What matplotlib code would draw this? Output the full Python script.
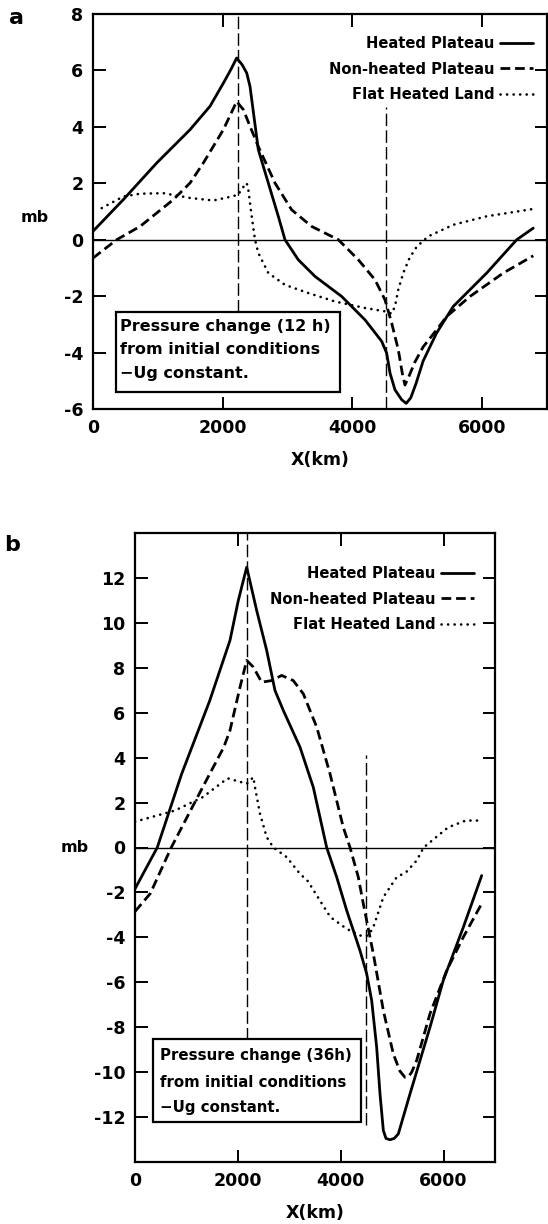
import matplotlib
matplotlib.use('Agg')
import matplotlib.pyplot as plt
from matplotlib.patches import Rectangle

plt.rcParams['font.family'] = ['DejaVu Sans']
plt.rcParams['lines.scale_dashes'] = False

# ---------------- Panel a data (12 h) ----------------
a_heated_x = [0, 467, 982, 1496, 1804, 2010, 2130, 2215, 2300, 2370, 2421, 2549, 2703, 2857, 2960,
              3165, 3423, 3834, 4194, 4451, 4528, 4580, 4656, 4759, 4830, 4900, 4980, 5090, 5299,
              5556, 6070, 6533, 6788]
a_heated_y = [0.3, 1.42, 2.72, 3.9, 4.73, 5.55, 6.05, 6.44, 6.2, 5.91, 5.43, 3.19, 2.01, 0.83, 0.0,
              -0.71, -1.3, -2.01, -2.84, -3.6, -4.02, -4.73, -5.32, -5.67, -5.8, -5.6, -5.1, -4.3, -3.3,
              -2.36, -1.18, 0.0, 0.41]

a_nonheated_x = [0, 365, 725, 1238, 1496, 1701, 2010, 2215, 2318, 2421, 2549, 2806, 3063, 3372, 3783,
                 4091, 4348, 4502, 4605, 4707, 4770, 4810, 4870, 4960, 5090, 5299, 5453, 5813, 6326, 6788]
a_nonheated_y = [-0.65, 0.0, 0.47, 1.42, 2.01, 2.72, 3.9, 4.9, 4.61, 4.02, 3.3, 2.01, 1.06, 0.47, 0.0,
                 -0.71, -1.42, -2.13, -2.95, -3.9, -4.75, -5.15, -4.85, -4.35, -3.8, -3.19, -2.72, -2.01,
                 -1.18, -0.57]

a_flat_x = [134, 467, 725, 1084, 1496, 1855, 2138, 2241, 2293, 2370, 2395, 2447, 2498, 2549, 2703,
            2960, 3320, 3731, 4194, 4502, 4605, 4656, 4707, 4784, 4880, 4990, 5170, 5556, 6070, 6788]
a_flat_y = [1.12, 1.53, 1.63, 1.65, 1.48, 1.39, 1.53, 1.6, 1.8, 2.01, 1.77, 0.83, 0.0, -0.47, -1.18,
            -1.6, -1.89, -2.19, -2.42, -2.54, -2.62, -2.36, -1.77, -1.18, -0.65, -0.25, 0.12, 0.53,
            0.83, 1.09]

# ---------------- Panel b data (36 h) ----------------
b_heated_x = [0, 433, 906, 1452, 1847, 2009, 2172, 2366, 2561, 2722, 2884, 3208, 3467, 3727, 3922,
              4116, 4375, 4505, 4602, 4699, 4764, 4829, 4880, 4958, 5040, 5120, 5347, 5736, 5994,
              6384, 6741]
b_heated_y = [-1.84, 0.0, 3.27, 6.53, 9.22, 11.0, 12.48, 10.55, 8.77, 6.99, 6.1, 4.47, 2.68, 0.0, -1.32,
              -2.8, -4.59, -5.62, -6.81, -8.89, -10.97, -12.6, -12.95, -13.01, -12.95, -12.75, -10.97,
              -8.0, -5.92, -3.55, -1.25]

b_nonheated_x = [0, 297, 705, 1249, 1725, 1847, 2042, 2172, 2301, 2463, 2657, 2852, 3078, 3273, 3533,
                 3792, 4050, 4181, 4342, 4439, 4634, 4829, 5023, 5150, 5250, 5320, 5380, 5477, 5736,
                 6060, 6384, 6741]
b_nonheated_y = [-2.85, -2.05, 0.0, 2.39, 4.46, 5.21, 7.14, 8.33, 8.03, 7.36, 7.43, 7.66, 7.43, 6.84,
                 5.36, 3.28, 0.9, 0.0, -1.32, -2.5, -4.73, -7.26, -9.19, -9.95, -10.23, -10.2, -10.0,
                 -9.48, -7.4, -5.48, -3.99, -2.5]

b_flat_x = [0, 770, 1316, 1800, 2172, 2236, 2301, 2333, 2431, 2561, 2690, 2950, 3208, 3362, 3634,
            3800, 4116, 4375, 4537, 4634, 4829, 5088, 5271, 5477, 5612, 6090, 6431, 6772]
b_flat_y = [1.15, 1.64, 2.24, 3.08, 2.84, 2.98, 3.13, 2.68, 1.5, 0.46, 0.0, -0.43, -1.17, -1.5, -2.5,
            -3.1, -3.62, -3.92, -3.92, -3.55, -2.21, -1.32, -1.1, -0.58, 0.0, 0.9, 1.2, 1.2]

series_labels = ['Heated Plateau', 'Non-heated Plateau', 'Flat Heated Land']
xticks = [0, 2000, 4000, 6000]
a_yticks = [-6, -4, -2, 0, 2, 4, 6, 8]
b_yticks = [-12, -10, -8, -6, -4, -2, 0, 2, 4, 6, 8, 10, 12]
a_box_lines = ['Pressure change (12 h)', 'from initial conditions', '\u2212Ug constant.']
b_box_lines = ['Pressure change (36h)', 'from initial conditions', '\u2212Ug constant.']

W, H = 548, 1224
fig = plt.figure(figsize=(W / 100, H / 100), dpi=100)

FS = 11.5
LFS = 10.6
WT = 'bold'


def px_axes(l, r, t, b):
    return fig.add_axes([l / W, 1 - b / H, (r - l) / W, (b - t) / H])


def style(ax, ylim, yticks):
    ax.set_xlim(0, 7000)
    ax.set_ylim(*ylim)
    ax.set_xticks(xticks)
    ax.set_yticks(yticks)
    ax.set_xticklabels([str(v) for v in xticks])
    ax.set_yticklabels([str(v) for v in yticks])
    ax.tick_params(direction='in', length=9, width=1.4, top=True, right=True,
                   labelsize=FS + 1, pad=7)
    for lab in ax.get_xticklabels() + ax.get_yticklabels():
        lab.set_fontweight(WT)
    for s in ax.spines.values():
        s.set_linewidth(1.6)
    ax.axhline(0, color='black', lw=1.0, zorder=1)


def curves(ax, hx, hy, nx, ny, fx, fy):
    l1, = ax.plot(hx, hy, color='black', lw=2.0, solid_capstyle='round',
                  solid_joinstyle='round', zorder=3)
    l2, = ax.plot(nx, ny, color='black', lw=2.0, linestyle=(0, (7, 3.5)), zorder=3)
    l3, = ax.plot(fx, fy, color='black', lw=1.9, linestyle=(0, (0.1, 4.6)),
                  dash_capstyle='round', zorder=3)
    return [l1, l2, l3]


def box(ax, x0, x1, y0, y1, tx, tys, lines, fs):
    ax.add_patch(Rectangle((x0, y0), x1 - x0, y1 - y0, facecolor='white',
                           edgecolor='black', lw=1.6, zorder=5))
    for ty, t in zip(tys, lines):
        ax.text(tx, ty, t, fontsize=fs, fontweight=WT, va='center', ha='left', zorder=6)


def legend(ax, handles, anchor):
    ax.legend(handles, series_labels, loc='upper right', bbox_to_anchor=anchor,
              frameon=False, markerfirst=False, handlelength=2.25, handletextpad=0.35,
              labelspacing=0.72, borderaxespad=0, borderpad=0,
              prop={'size': LFS, 'weight': WT})


# ---------------- Panel a ----------------
ax1 = px_axes(93, 547, 14, 409)
style(ax1, (-6, 8), a_yticks)
h = curves(ax1, a_heated_x, a_heated_y, a_nonheated_x, a_nonheated_y, a_flat_x, a_flat_y)
ax1.vlines(2240, -2.55, 8, colors='black', lw=1.0, linestyles=[(0, (9, 3))], zorder=2)
ax1.vlines(4525, -6, 4.7, colors='black', lw=1.0, linestyles=[(0, (9, 3))], zorder=2)
box(ax1, 354, 3812, -5.38, -2.55, 424, [-3.07, -3.89, -4.74], a_box_lines, FS)
legend(ax1, h, ((533 - 93) / 454, (409 - 36) / 395))
ax1.xaxis.set_label_coords((327 - 93) / 454, (409 - 460) / 395)
ax1.set_xlabel('X(km)', fontsize=FS + 1, fontweight=WT, va='center')

# ---------------- Panel b ----------------
ax2 = px_axes(135, 495, 533, 1162)
style(ax2, (-14, 14), b_yticks)
h2 = curves(ax2, b_heated_x, b_heated_y, b_nonheated_x, b_nonheated_y, b_flat_x, b_flat_y)
ax2.vlines(2172, -8.55, 14, colors='black', lw=1.0, linestyles=[(0, (9, 3))], zorder=2)
ax2.vlines(4485, -12.36, 4.1, colors='black', lw=1.0, linestyles=[(0, (9, 3))], zorder=2)
box(ax2, 354, 4385, -12.2, -8.53, 482, [-9.24, -10.44, -11.56], b_box_lines, 10.8)
legend(ax2, h2, ((474 - 135) / 360, (1162 - 566) / 629))
ax2.xaxis.set_label_coords((327 - 135) / 360, (1162 - 1213) / 629)
ax2.set_xlabel('X(km)', fontsize=FS + 1, fontweight=WT, va='center')

# panel letters and units
fig.text(17 / W, 1 - 18 / H, 'a', fontsize=16, fontweight=WT, ha='center', va='center')
fig.text(12 / W, 1 - 545 / H, 'b', fontsize=16, fontweight=WT, ha='center', va='center')
fig.text(35 / W, 1 - 217 / H, 'mb', fontsize=FS, fontweight=WT, ha='center', va='center')
fig.text(75 / W, 1 - 847 / H, 'mb', fontsize=FS, fontweight=WT, ha='center', va='center')

fig.savefig('out.png', dpi=100, facecolor='white')
